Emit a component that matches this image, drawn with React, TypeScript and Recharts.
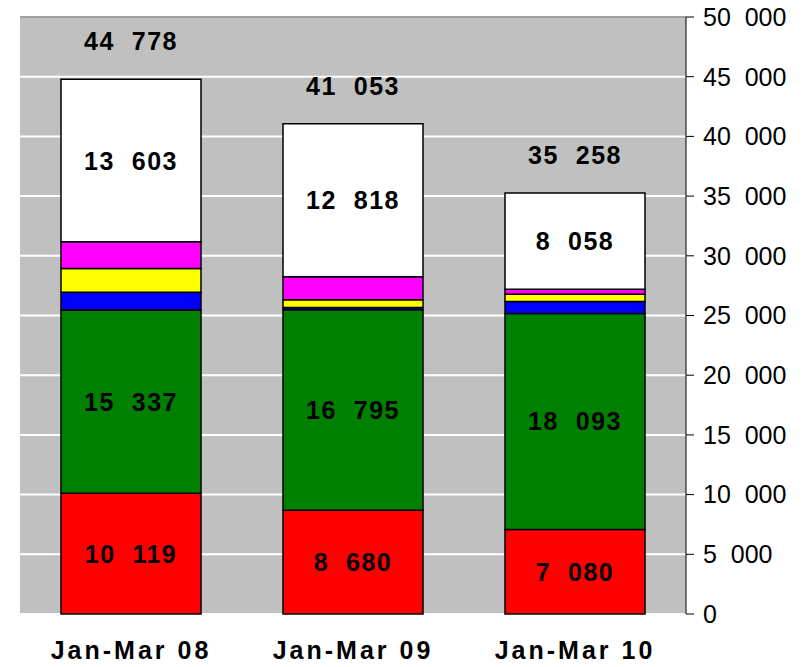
import React from "react";
import { BarChart, Bar, XAxis, YAxis, CartesianGrid, LabelList, ReferenceLine } from "recharts";

const categories = ["Jan-Mar 08", "Jan-Mar 09", "Jan-Mar 10"];
const redValues = [10119, 8680, 7080];
const greenValues = [15337, 16795, 18093];
const blueValues = [1490, 200, 1000];
const yellowValues = [1990, 640, 600];
const magentaValues = [2239, 1920, 427];
const whiteValues = [13603, 12818, 8058];
const totals = [44778, 41053, 35258];
const yTicks = [0, 5000, 10000, 15000, 20000, 25000, 30000, 35000, 40000, 45000, 50000];

const data = categories.map((c, i) => ({
  name: c,
  red: redValues[i],
  green: greenValues[i],
  blue: blueValues[i],
  yellow: yellowValues[i],
  magenta: magentaValues[i],
  white: whiteValues[i],
  total: totals[i],
}));

const fmt = (v: any) => {
  const n = Number(v);
  if (n < 1000) return String(n);
  const th = Math.floor(n / 1000);
  const rest = String(n % 1000).padStart(3, "0");
  return th + "\u00A0\u00A0" + rest;
};

const catFmt = (v: any) => String(v).replace(" ", "\u00A0");

const labelFont = { fontFamily: "Liberation Sans", fontWeight: 700, fontSize: 25, letterSpacing: 1.5 };

const TotalLabel = (props: any) => {
  const { x, y, width, value } = props;
  return (
    <text x={Number(x) + Number(width) / 2} y={Number(y) - 38} textAnchor="middle" dominantBaseline="central" fill="#000" style={labelFont}>
      {fmt(value)}
    </text>
  );
};

const SegLabel = (props: any) => {
  const { x, y, width, height, value } = props;
  return (
    <text x={Number(x) + Number(width) / 2} y={Number(y) + Number(height) / 2} textAnchor="middle" dominantBaseline="central" fill="#000" style={labelFont}>
      {fmt(value)}
    </text>
  );
};

export default function App() {
  return (
    <div style={{ position: "absolute", left: 0, top: 0, background: "#fff" }}>
      <BarChart width={808} height={667} data={data} margin={{ top: 17, right: 0, left: 20, bottom: 0 }} barSize={140}>
        <CartesianGrid xAxisId="cat" yAxisId="r" fill="#C0C0C0" fillOpacity={1} vertical={false} stroke="#FFFFFF" strokeWidth={2} />
        <XAxis xAxisId="b" type="number" domain={[0, 3]} ticks={[0, 1, 2, 3]} height={0} tick={false} tickSize={9} tickLine={{ stroke: "#000" }} axisLine={{ stroke: "#000", strokeWidth: 1.5 }} allowDataOverflow />
        <XAxis xAxisId="cat" dataKey="name" height={53} axisLine={false} tickLine={false} tickMargin={21} tickFormatter={catFmt}
          tick={{ fill: "#000", fontFamily: "Liberation Sans", fontWeight: 700, fontSize: 25, letterSpacing: 3 }} />
        <YAxis yAxisId="l" orientation="left" width={0} domain={[0, 50000]} tick={false} tickLine={false} axisLine={{ stroke: "#808080" }} />
        <YAxis yAxisId="r" orientation="right" width={122} domain={[0, 50000]} ticks={yTicks} tickFormatter={fmt} tickSize={8} tickMargin={9}
          axisLine={{ stroke: "#000" }} tickLine={{ stroke: "#000" }}
          tick={{ fill: "#000", fontFamily: "Liberation Sans", fontSize: 25 }} />
        <ReferenceLine yAxisId="r" xAxisId="cat" y={50000} stroke="#808080" strokeWidth={1.5} />
        <Bar xAxisId="cat" yAxisId="r" dataKey="red" stackId="s" fill="#FF0000" stroke="#000" strokeWidth={1.5} isAnimationActive={false}>
          <LabelList dataKey="red" content={SegLabel} />
        </Bar>
        <Bar xAxisId="cat" yAxisId="r" dataKey="green" stackId="s" fill="#008000" stroke="#000" strokeWidth={1.5} isAnimationActive={false}>
          <LabelList dataKey="green" content={SegLabel} />
        </Bar>
        <Bar xAxisId="cat" yAxisId="r" dataKey="blue" stackId="s" fill="#0000FF" stroke="#000" strokeWidth={1.5} isAnimationActive={false} />
        <Bar xAxisId="cat" yAxisId="r" dataKey="yellow" stackId="s" fill="#FFFF00" stroke="#000" strokeWidth={1.5} isAnimationActive={false} />
        <Bar xAxisId="cat" yAxisId="r" dataKey="magenta" stackId="s" fill="#FF00FF" stroke="#000" strokeWidth={1.5} isAnimationActive={false} />
        <Bar xAxisId="cat" yAxisId="r" dataKey="white" stackId="s" fill="#FFFFFF" stroke="#000" strokeWidth={1.5} isAnimationActive={false}>
          <LabelList dataKey="white" content={SegLabel} />
          <LabelList dataKey="total" content={TotalLabel} />
        </Bar>
      </BarChart>
    </div>
  );
}
